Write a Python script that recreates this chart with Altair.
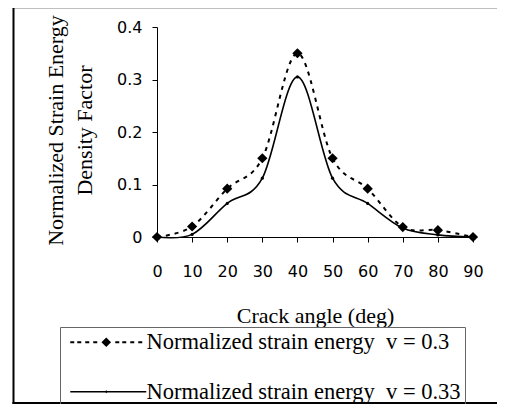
import altair as alt
import pandas as pd

# ---- data ----
angles = [0, 10, 20, 30, 40, 50, 60, 70, 80, 90]
sed_v030 = [0.0, 0.020, 0.092, 0.150, 0.350, 0.150, 0.092, 0.019, 0.013, 0.0]
sed_v033 = [0.0, 0.005, 0.064, 0.112, 0.305, 0.112, 0.064, 0.017, 0.004, 0.0]
series_labels = ["Normalized strain energy\u00a0\u00a0v = 0.3",
                 "Normalized strain energy\u00a0\u00a0v = 0.33"]
x_ticks = [0, 10, 20, 30, 40, 50, 60, 70, 80, 90]
y_ticks = [0, 0.1, 0.2, 0.3, 0.4]

df = pd.DataFrame({
    "angle": angles + angles,
    "sed": sed_v030 + sed_v033,
    "series": [series_labels[0]] * len(angles) + [series_labels[1]] * len(angles),
})

W, H = 316, 210

x_axis = alt.Axis(values=x_ticks, title="Crack angle (deg)",
                  labelPadding=21, tickSize=5, labelOverlap=False,
                  labelFlush=False, titleY=85, titleBaseline="alphabetic")
y_axis = alt.Axis(values=y_ticks, format=".1~f",
                  title=["Normalized Strain Energy", "Density Factor"],
                  titleX=-94.5, titleY=103, titleAngle=270,
                  titleBaseline="alphabetic", titleAlign="center",
                  titleLineHeight=29, labelPadding=10, tickSize=5,
                  labelOverlap=False)
x_enc = alt.X("angle:Q", scale=alt.Scale(domain=[0, 90], nice=False), axis=x_axis)
y_enc = alt.Y("sed:Q", scale=alt.Scale(domain=[0, 0.4], nice=False), axis=y_axis)

base = alt.Chart(df)

line_a = base.transform_filter(alt.datum.series == series_labels[0]).mark_line(
    interpolate="cardinal", color="black", strokeWidth=2, strokeDash=[4, 5]
).encode(x=x_enc, y=y_enc)

line_b = base.transform_filter(alt.datum.series == series_labels[1]).mark_line(
    interpolate="cardinal", color="black", strokeWidth=1.6
).encode(x=x_enc, y=y_enc)

pts_a = base.transform_filter(alt.datum.series == series_labels[0]).mark_point(
    shape="diamond", filled=True, color="black", size=105, opacity=1
).encode(x=x_enc, y=y_enc)

pts_b = base.transform_filter(alt.datum.series == series_labels[1]).mark_point(
    shape="circle", filled=True, color="black", size=10, opacity=1
).encode(x=x_enc, y=y_enc)


# legend symbols as filled custom paths (1 unit = 8 px)
def rect(x1, x2, h):
    return f"M{x1},{-h}H{x2}V{h}H{x1}Z"


dash_spans = [(-0.625, -0.125), (0.25, 0.75), (1.25, 1.75), (2.25, 2.75),
              (5.0, 5.5), (5.875, 6.375), (6.875, 7.375), (7.875, 8.375)]
path_a = "".join(rect(a, b, 0.125) for a, b in dash_spans) + \
    "M3.875,-0.6L4.475,0L3.875,0.6L3.275,0Z"
path_b = rect(-0.625, 8.875, 0.1) + \
    "M3.875,-0.2L4.075,0L3.875,0.2L3.675,0Z"

leg = alt.Legend(title=None, orient="none", legendX=-97, legendY=300,
                 strokeColor="#666666", padding=4, symbolSize=256,
                 labelFont="Liberation Serif",
                 labelFontSize=22.5, labelOffset=60, rowPadding=26.5,
                 labelLimit=0, labelColor="black")
legend_layer = base.transform_filter("false").mark_point(
    filled=True, color="black", opacity=1
).encode(
    shape=alt.Shape("series:N", scale=alt.Scale(domain=series_labels, range=[path_a, path_b]), legend=leg),
)

# outer frame (decoration)
frame_df = pd.DataFrame({"k": [0]})
fr = alt.Chart(frame_df)
top_rule = fr.mark_rule(color="black", strokeWidth=2.5).encode(
    x=alt.value(-144.5), x2=alt.value(W + 40), y=alt.value(-20))
left_rule = fr.mark_rule(color="black", strokeWidth=2).encode(
    x=alt.value(-143.5), y=alt.value(-21), y2=alt.value(377))
bottom_rule = fr.mark_rule(color="black", strokeWidth=2).encode(
    x=alt.value(-144.5), x2=alt.value(W + 40), y=alt.value(376))

chart = alt.layer(
    line_a, line_b, pts_a, pts_b, legend_layer, top_rule, left_rule, bottom_rule
).properties(
    width=W, height=H,
    autosize=alt.AutoSizeParams(type="none"),
    padding={"left": 149, "top": 19, "right": 24, "bottom": 167},
).configure_view(stroke=None).configure_axis(
    grid=False, domainColor="black", tickColor="black", domainWidth=1,
    labelFont="DejaVu Sans", labelFontSize=16, labelColor="black",
    titleFont="Liberation Serif", titleFontSize=22, titleFontWeight="normal",
    titleColor="black", labelOverlap=False,
)

chart.save("out.html", embed_options={"renderer": "svg", "actions": False})
